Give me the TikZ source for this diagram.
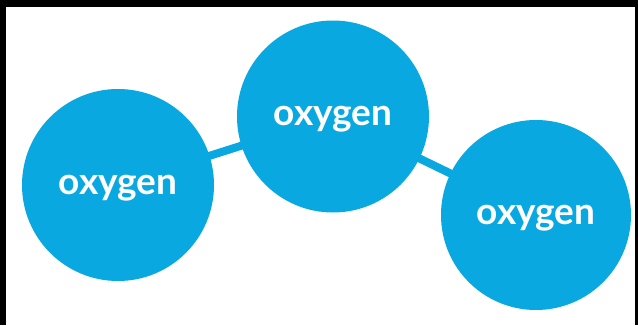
\documentclass[tikz,border=0pt]{standalone}
\usepackage{fontspec}
\setmainfont{Lato}
\usetikzlibrary{backgrounds}
\definecolor{oxblue}{HTML}{0AA8E1}
\begin{document}
\begin{tikzpicture}[x=1pt,y=1pt,
  atom/.style={circle, fill=oxblue, minimum size=192pt, inner sep=0pt,
    text=white, font=\fontsize{37}{37}\selectfont\bfseries,
    text height=18.5pt, text depth=0pt},
  bond/.style={draw=oxblue, line width=8pt}]
\useasboundingbox (0,0) rectangle (638,325);
\node[atom] (o1) at (118,140) {oxygen};
\node[atom] (o2) at (333,208.5) {oxygen};
\node[atom, minimum size=190pt] (o3) at (536,110) {oxygen};
\begin{scope}[on background layer]
\fill[white] (0,0) rectangle (638,325);
\fill[black] (0,318) rectangle (638,325);
\fill[black] (0,0) rectangle (6,325);
\fill[black] (635,0) rectangle (638,325);
\draw[bond] (o1.center) -- (o2.center);
\draw[bond] (o2.center) -- (o3.center);
\end{scope}
\end{tikzpicture}
\end{document}
